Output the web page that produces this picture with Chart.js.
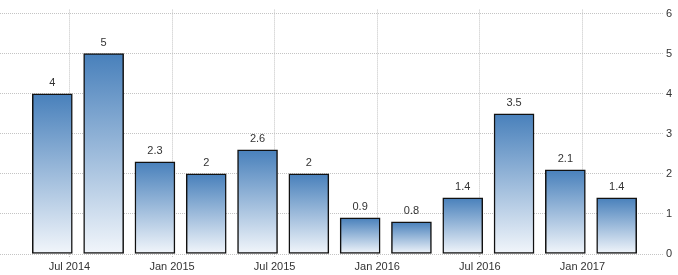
<!DOCTYPE html>
<html lang="en">
<head>
  <meta charset="UTF-8" />
  <title>Quarterly growth</title>
  <script src="https://cdn.jsdelivr.net/npm/chart.js"></script>
  <style>
    * { margin: 0; padding: 0; box-sizing: border-box; }
    body { background: #fff; }
    .chart-container { width: 678px; height: 275px; position: relative; }
  </style>
</head>
<body>
  <div class="chart-container">
    <canvas id="growthChart"></canvas>
  </div>

  <script>
    // quarter of each bar (year-month) and its value
    const quarters = ['2014-06', '2014-09', '2014-12', '2015-03', '2015-06', '2015-09',
                      '2015-12', '2016-03', '2016-06', '2016-09', '2016-12', '2017-03'];
    const growth = [4, 5, 2.3, 2, 2.6, 2, 0.9, 0.8, 1.4, 3.5, 2.1, 1.4];

    // x axis ticks
    const tickMonths = ['2014-07', '2015-01', '2015-07', '2016-01', '2016-07', '2017-01'];
    const tickLabels = ['Jul 2014', 'Jan 2015', 'Jul 2015', 'Jan 2016', 'Jul 2016', 'Jan 2017'];

    const gridColor = '#c4c4c4';
    const textColor = '#333';

    // months counted from Jun 2014
    function monthIndex(s) {
      const [y, m] = s.split('-').map(Number);
      return (y - 2014) * 12 + (m - 6);
    }

    const points = quarters.map((q, i) => ({ x: monthIndex(q), y: growth[i] }));

    const valueLabels = {
      id: 'valueLabels',
      afterDatasetsDraw(chart) {
        const ctx = chart.ctx;
        const meta = chart.getDatasetMeta(0);
        ctx.save();
        ctx.font = '11px "Liberation Sans", Arial, sans-serif';
        ctx.fillStyle = textColor;
        ctx.textAlign = 'center';
        ctx.textBaseline = 'middle';
        meta.data.forEach((bar, i) => {
          ctx.fillText(String(growth[i]), bar.x, bar.y - 11);
        });
        ctx.restore();
      }
    };

    new Chart(document.getElementById('growthChart'), {
      type: 'bar',
      data: {
        datasets: [{
          data: points,
          barThickness: 40,
          borderColor: '#111',
          borderWidth: 1.5,
          borderSkipped: false,
          backgroundColor: (c) => {
            const chart = c.chart;
            if (!chart.chartArea || c.type !== 'data') return '#4a84bf';
            const y = chart.scales.y;
            const top = y.getPixelForValue(c.raw.y);
            const bottom = y.getPixelForValue(0);
            const g = chart.ctx.createLinearGradient(0, top, 0, bottom);
            g.addColorStop(0, '#4880bb');
            g.addColorStop(1, '#f2f6fb');
            return g;
          }
        }]
      },
      options: {
        responsive: true,
        maintainAspectRatio: false,
        animation: false,
        layout: { padding: { top: 8, left: 0, right: 0, bottom: 0 } },
        plugins: {
          legend: { display: false },
          tooltip: { enabled: false }
        },
        scales: {
          x: {
            type: 'linear',
            offset: false,
            min: -3.06,
            max: 35.71,
            afterBuildTicks: (s) => {
              s.ticks = tickMonths.map(m => ({ value: monthIndex(m) }));
            },
            afterFit: (s) => { s.height = 21; },
            ticks: {
              autoSkip: false,
              maxRotation: 0,
              padding: 2,
              color: textColor,
              font: { family: '"Liberation Sans", Arial, sans-serif', size: 11 },
              callback: (v, i) => tickLabels[i]
            },
            grid: {
              offset: false,
              color: gridColor,
              tickColor: gridColor,
              tickLength: 4,
              tickBorderDash: [1, 1]
            },
            border: { display: false, dash: [1, 1] }
          },
          y: {
            position: 'right',
            min: 0,
            max: 6.1,
            afterFit: (s) => { s.width = 15; },
            ticks: {
              stepSize: 1,
              includeBounds: false,
              padding: 3,
              color: textColor,
              font: { family: '"Liberation Sans", Arial, sans-serif', size: 11 }
            },
            grid: { color: gridColor, drawTicks: false },
            border: { display: false, dash: [1, 1] }
          }
        }
      },
      plugins: [valueLabels]
    });
  </script>
</body>
</html>
